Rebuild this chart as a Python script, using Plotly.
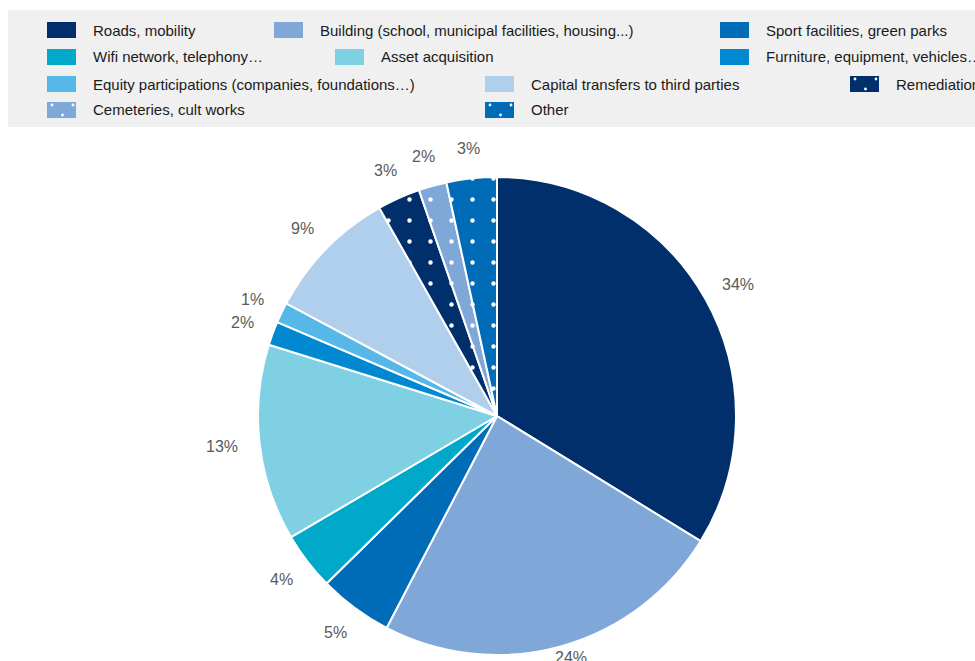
import math
import plotly.graph_objects as go

# Capital expenditure breakdown, in % of the total
categories = [
    "Roads, mobility",
    "Building (school, municipal facilities, housing...)",
    "Sport facilities, green parks",
    "Wifi network, telephony…",
    "Asset acquisition",
    "Furniture, equipment, vehicles…",
    "Equity participations (companies, foundations…)",
    "Capital transfers to third parties",
    "Remediation",
    "Cemeteries, cult works",
    "Other",
]
shares = [33.8, 23.9, 5.0, 3.9, 13.3, 1.6, 1.4, 9.0, 2.9, 1.9, 3.4]
colors = [
    "#002f6c", "#7fa8d9", "#006bb6", "#00a9c9", "#7fd0e3", "#0089d0",
    "#55b8e8", "#b0cfec", "#002f6c", "#7fa8d9", "#006bb6",
]
dotted = [False] * 8 + [True] * 3

W, H = 975, 661
FONT = "Liberation Sans, Arial, sans-serif"

# Pie placement in pixels
CX, CY, R = 497, 416, 239

fig = go.Figure()

fig.add_trace(go.Pie(
    labels=categories,
    values=shares,
    sort=False,
    direction="clockwise",
    rotation=0,
    marker=dict(
        colors=colors,
        line=dict(color="white", width=2),
        pattern=dict(
            shape=["." if d else "" for d in dotted],
            fillmode="replace",
            bgcolor=colors,
            fgcolor="white",
            fgopacity=1,
            size=21,
            solidity=0.035,
        ),
    ),
    textinfo="none",
    showlegend=False,
    hoverinfo="label+percent",
    domain=dict(x=[(CX - R) / W, (CX + R) / W], y=[(H - CY - R) / H, (H - CY + R) / H]),
))

shapes = []
annotations = []

# Percentage labels around the pie, placed from each slice's mid angle
total = sum(shares)
cum = 0.0
for v in shares:
    frac = v / total
    theta = 2 * math.pi * (cum + frac / 2)  # clockwise from 12 o'clock
    cum += frac
    label = f"{round(100 * frac)}%"
    half_w = 4.8 * len(label)
    half_h = 7
    s, c = math.sin(theta), math.cos(theta)
    lx = CX + 262 * s + half_w * s
    ly = CY - 262 * c - half_h * c
    ly = min(ly, H - 4)
    annotations.append(dict(xref="paper", yref="paper",
                            x=lx / W, y=1 - ly / H,
                            xanchor="center", yanchor="middle", showarrow=False,
                            text=label,
                            font=dict(family=FONT, size=16, color="#5a5a5a")))

# Legend panel
shapes.append(dict(type="rect", xref="paper", yref="paper",
                   x0=8 / W, x1=1.0, y0=1 - 127 / H, y1=1 - 10 / H,
                   fillcolor="#f0f0f0", line=dict(width=0), layer="below"))

# Legend layout: (row, swatch left edge in px)
legend_pos = [
    (0, 47), (0, 274), (0, 720),
    (1, 47), (1, 335), (1, 720),
    (2, 47), (2, 485), (2, 850),
    (3, 47), (3, 485),
]
row_centers = [30, 57, 84, 110]
SW, SH = 29, 16
dot_offsets = [(5, 3), (26, 3), (15.5, 13)]

for name, col, dot, (row, x0) in zip(categories, colors, dotted, legend_pos):
    yc = row_centers[row]
    shapes.append(dict(type="rect", xref="paper", yref="paper",
                       x0=x0 / W, x1=(x0 + SW) / W,
                       y0=1 - (yc + SH / 2) / H, y1=1 - (yc - SH / 2) / H,
                       fillcolor=col, line=dict(width=0)))
    if dot:
        for dx, dy in dot_offsets:
            cx, cy = x0 + dx, yc - SH / 2 + dy
            shapes.append(dict(type="circle", xref="paper", yref="paper",
                               x0=(cx - 1.4) / W, x1=(cx + 1.4) / W,
                               y0=1 - (cy + 1.4) / H, y1=1 - (cy - 1.4) / H,
                               fillcolor="white", line=dict(width=0)))
    annotations.append(dict(xref="paper", yref="paper",
                            x=(x0 + 44) / W, y=1 - yc / H,
                            xanchor="left", yanchor="middle", showarrow=False,
                            text=name,
                            font=dict(family=FONT, size=15, color="#1a1a1a")))

fig.update_layout(
    width=W, height=H,
    margin=dict(l=0, r=0, t=0, b=0),
    paper_bgcolor="white",
    plot_bgcolor="white",
    shapes=shapes,
    annotations=annotations,
)

fig.write_html("out.html")
